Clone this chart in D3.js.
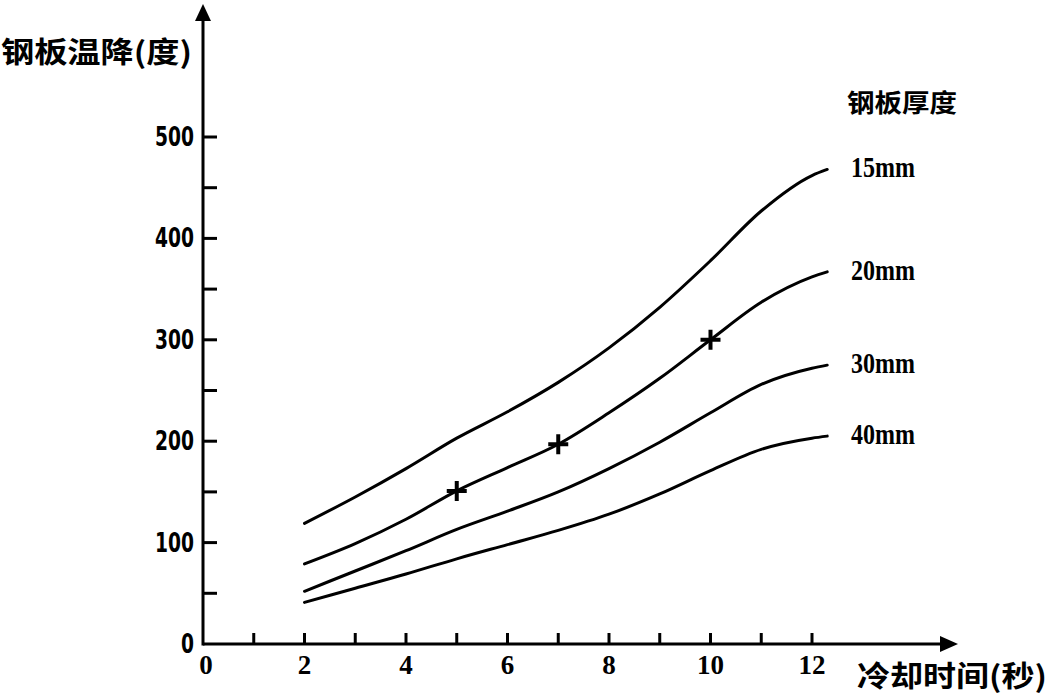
<!DOCTYPE html>
<html>
<head>
<meta charset="utf-8">
<script src="https://cdn.jsdelivr.net/npm/d3@7/dist/d3.min.js"></script>
<style>
  html, body { margin: 0; padding: 0; background: #fff; }
  svg { display: block; }
</style>
</head>
<body>
<svg id="chart" width="1049" height="700"></svg>
<script>
// ---- data ----
const times = [2, 3, 4, 5, 6, 7, 8, 9, 10, 11, 12, 12.3];
const series15 = [119, 145, 173, 203, 229, 258, 292, 332, 378, 427, 462, 468];
const series20 = [79, 99, 123, 151, 174, 197, 228, 262, 300, 337, 362, 367];
const series30 = [52, 72, 92, 113, 131, 150, 173, 199, 228, 256, 272, 275];
const series40 = [41, 55, 69, 84, 98, 112, 128, 148, 171, 192, 203, 205];
const seriesNames = ["15mm", "20mm", "30mm", "40mm"];
const markerPoints = [[5, 151], [7, 197], [10, 300]];
const xTickLabels = [0, 2, 4, 6, 8, 10, 12];
const yTickLabels = [0, 100, 200, 300, 400, 500];

const svg = d3.select("#chart");
const x = d3.scaleLinear().domain([0, 12]).range([203, 812]);
const y = d3.scaleLinear().domain([0, 500]).range([644, 137]);

const sans = "'DejaVu Sans', 'Liberation Sans', sans-serif";
const serif = "'Liberation Serif', 'Times New Roman', serif";
const cjk = "'Noto Sans CJK SC', sans-serif";

// axes lines
svg.append("line").attr("x1", x(0)).attr("x2", 945).attr("y1", y(0)).attr("y2", y(0))
  .attr("stroke", "#000").attr("stroke-width", 3);
svg.append("line").attr("x1", x(0)).attr("x2", x(0)).attr("y1", y(0) + 1.5).attr("y2", 16)
  .attr("stroke", "#000").attr("stroke-width", 3);
// arrowheads
svg.append("path").attr("d", `M${x(0)},4 L${x(0) - 8},21 L${x(0) + 8},21 Z`).attr("fill", "#000");
svg.append("path").attr("d", `M958,${y(0)} L940,${y(0) - 8} L940,${y(0) + 8} Z`).attr("fill", "#000");

// y ticks (every 50)
const yTicks = d3.range(50, 501, 50);
svg.selectAll(".ytick").data(yTicks).enter().append("line")
  .attr("x1", x(0)).attr("x2", x(0) + 14)
  .attr("y1", d => y(d)).attr("y2", d => y(d))
  .attr("stroke", "#000").attr("stroke-width", 3);
// x ticks (every 1)
const xTicks = d3.range(1, 13, 1);
svg.selectAll(".xtick").data(xTicks).enter().append("line")
  .attr("x1", d => x(d)).attr("x2", d => x(d))
  .attr("y1", y(0)).attr("y2", y(0) - 11)
  .attr("stroke", "#000").attr("stroke-width", 3);

// y tick labels
svg.selectAll(".ylab").data(yTickLabels).enter().append("text")
  .attr("x", 194).attr("y", d => y(d) + 9)
  .attr("text-anchor", "end")
  .attr("font-family", sans).attr("font-weight", "bold").attr("font-size", 26)
  .attr("textLength", d => String(d).length * 13)
  .attr("lengthAdjust", "spacingAndGlyphs")
  .text(d => d);

// x tick labels
svg.selectAll(".xlab").data(xTickLabels).enter().append("text")
  .attr("x", d => x(d) + (d === 0 ? 3 : 0)).attr("y", 674)
  .attr("text-anchor", "middle")
  .attr("font-family", serif).attr("font-weight", "bold").attr("font-size", 27)
  .text(d => d);

// axis titles
svg.append("text").attr("x", 1).attr("y", 63)
  .attr("font-family", cjk).attr("font-weight", "bold").attr("font-size", 29)
  .attr("textLength", 191).attr("lengthAdjust", "spacingAndGlyphs")
  .text("钢板温降(度)");
svg.append("text").attr("x", 857).attr("y", 687)
  .attr("font-family", cjk).attr("font-weight", "bold").attr("font-size", 29)
  .attr("textLength", 190).attr("lengthAdjust", "spacingAndGlyphs")
  .text("冷却时间(秒)");

// curves
const allSeries = [series15, series20, series30, series40];
const line = d3.line().x(d => x(d[0])).y(d => y(d[1])).curve(d3.curveMonotoneX);
allSeries.forEach(s => {
  svg.append("path")
    .attr("d", line(times.map((t, i) => [t, s[i]])))
    .attr("fill", "none").attr("stroke", "#000").attr("stroke-width", 3)
    .attr("stroke-linecap", "round");
});

// series labels
allSeries.forEach((s, i) => {
  svg.append("text")
    .attr("x", 851).attr("y", y(s[s.length - 1]) + 8)
    .attr("font-family", serif).attr("font-weight", "bold").attr("font-size", 30)
    .attr("textLength", 64).attr("lengthAdjust", "spacingAndGlyphs")
    .text(seriesNames[i]);
});
svg.append("text").attr("x", 847).attr("y", 112)
  .attr("font-family", cjk).attr("font-weight", "bold").attr("font-size", 25)
  .attr("textLength", 110).attr("lengthAdjust", "spacingAndGlyphs")
  .text("钢板厚度");

// plus markers
const m = 10;
markerPoints.forEach(p => {
  const cx = x(p[0]), cy = y(p[1]);
  svg.append("path")
    .attr("d", `M${cx - m},${cy} L${cx + m},${cy} M${cx},${cy - m} L${cx},${cy + m}`)
    .attr("stroke", "#000").attr("stroke-width", 4).attr("fill", "none");
});
</script>
</body>
</html>
